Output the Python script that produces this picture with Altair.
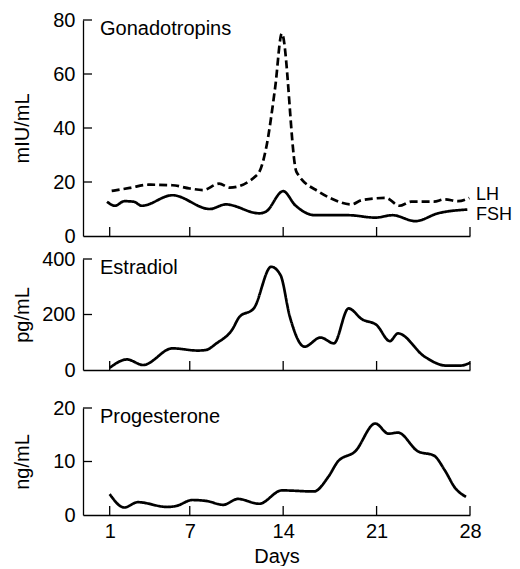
import altair as alt
import pandas as pd

FONT = "Liberation Sans"

# ---------------- data ----------------
x_ticks = [1, 7, 14, 21, 28]

lh_days = [1.15, 2.5, 3.9, 5.7, 7.0, 8.0, 9.2, 10.0, 12.1, 12.7, 13.4, 13.9, 15.0, 16.7, 17.6, 19.1, 19.9, 21.7, 22.7, 23.6, 25.3, 26.1, 27.1, 27.95]
lh_vals = [16.7, 17.8, 19.0, 18.8, 17.6, 17.0, 19.4, 17.9, 22.9, 32.0, 55.0, 75.0, 23.7, 16.3, 13.9, 11.7, 13.3, 14.1, 11.2, 12.7, 12.7, 13.6, 12.9, 14.1]

fsh_days = [0.8, 1.4, 2.1, 2.8, 3.4, 5.7, 8.5, 9.7, 12.2, 12.7, 14.0, 14.9, 16.4, 18.9, 20.9, 22.2, 23.9, 25.6, 27.8]
fsh_vals = [12.7, 11.2, 12.9, 12.7, 11.2, 15.1, 10.0, 11.7, 8.4, 9.0, 16.6, 11.4, 7.7, 7.7, 6.8, 7.7, 5.5, 8.4, 9.8]

e2_days = [1.0, 2.3, 3.5, 5.7, 7.6, 8.2, 9.0, 10.2, 10.7, 11.8, 13.1, 13.8, 14.5, 15.6, 16.8, 17.8, 18.9, 19.9, 21.0, 22.0, 22.6, 24.6, 26.2, 27.3, 28.0]
e2_vals = [8, 38, 18, 78, 70, 72, 96, 147, 190, 222, 372, 342, 192, 84, 117, 96, 222, 183, 162, 104, 132, 48, 16, 16, 26]

p4_days = [1.0, 2.1, 3.1, 5.3, 6.0, 7.2, 8.3, 9.5, 10.6, 12.2, 13.9, 16.3, 17.4, 18.1, 19.4, 20.9, 21.9, 22.6, 24.1, 25.3, 26.1, 26.9, 27.7]
p4_vals = [3.9, 1.4, 2.4, 1.5, 1.7, 2.8, 2.6, 1.9, 3.0, 2.1, 4.6, 4.4, 7.2, 10.0, 11.9, 17.1, 15.2, 15.4, 11.9, 11.1, 8.4, 5.0, 3.4]

gonad_ticks = [0, 20, 40, 60, 80]
e2_ticks = [0, 200, 400]
p4_ticks = [0, 10, 20]

series_labels = ["LH", "FSH"]
series_label_vals = [13.3, 5.9]

X_SCALE = dict(domain=[-1, 28], nice=False, zero=False)
W = 387


def panel(lines, ydomain, yticks, ytitle, label, height, bottom=False, extra=None):
    yscale = alt.Scale(domain=ydomain, nice=False, zero=True)
    if bottom:
        xaxis = alt.Axis(values=x_ticks, ticks=False, tickSize=0, labelPadding=6,
                         labelFlush=False, labelFontSize=20, title="Days",
                         titleFontSize=20, titleFontWeight="normal", titlePadding=5,
                         grid=False, domainColor="black", domainWidth=1.3,
                         labelColor="black", titleColor="black",
                         labelFont=FONT, titleFont=FONT)
    else:
        xaxis = alt.Axis(values=x_ticks, ticks=False, tickSize=0, labels=False,
                         title=None, grid=False, domainColor="black", domainWidth=1.3)
    yaxis = alt.Axis(values=yticks, ticks=False, tickSize=0, labelPadding=8,
                     labelFontSize=20, title=ytitle, titleFontSize=20,
                     titleFontWeight="normal",
                     titleX=-55, titleY=height / 2, titleAngle=270,
                     titleBaseline="alphabetic", titleAlign="center", grid=False,
                     domainColor="black", domainWidth=1.3, labelColor="black",
                     titleColor="black", labelFont=FONT, titleFont=FONT)
    layers = []
    first = True
    for df, dash in lines:
        m = alt.Chart(df).mark_line(color="black", strokeWidth=2.7,
                                    interpolate="monotone", strokeDash=dash)
        if first:
            enc = dict(x=alt.X("day:Q", scale=alt.Scale(**X_SCALE), axis=xaxis),
                       y=alt.Y("val:Q", scale=yscale, axis=yaxis))
            first = False
        else:
            enc = dict(x=alt.X("day:Q", scale=alt.Scale(**X_SCALE)),
                       y=alt.Y("val:Q", scale=yscale))
        layers.append(m.encode(**enc))
    # inward y ticks
    ytk = pd.DataFrame({"val": yticks[1:]})
    layers.append(alt.Chart(ytk).mark_rule(color="black", strokeWidth=1.3).encode(
        y=alt.Y("val:Q", scale=yscale), x=alt.value(0), x2=alt.value(9)))
    # inward x ticks
    xtk = pd.DataFrame({"day": x_ticks})
    layers.append(alt.Chart(xtk).mark_rule(color="black", strokeWidth=1.3).encode(
        x=alt.X("day:Q", scale=alt.Scale(**X_SCALE)), y=alt.value(height),
        y2=alt.value(height - 9)))
    # panel label
    lab = pd.DataFrame({"t": [label]})
    layers.append(alt.Chart(lab).mark_text(align="left", baseline="alphabetic",
                                           fontSize=20, font=FONT, color="black").encode(
        x=alt.value(17), y=alt.value(15), text="t:N"))
    if extra is not None:
        layers.append(extra(yscale))
    return alt.layer(*layers).properties(width=W, height=height)


lh_df = pd.DataFrame({"day": lh_days, "val": lh_vals})
fsh_df = pd.DataFrame({"day": fsh_days, "val": fsh_vals})
e2_df = pd.DataFrame({"day": e2_days, "val": e2_vals})
p4_df = pd.DataFrame({"day": p4_days, "val": p4_vals})


def series_text(yscale):
    df = pd.DataFrame({"day": [28, 28], "val": series_label_vals, "name": series_labels})
    return alt.Chart(df).mark_text(align="left", baseline="alphabetic", dx=6,
                                   fontSize=18, font=FONT, color="black").encode(
        x=alt.X("day:Q", scale=alt.Scale(**X_SCALE)),
        y=alt.Y("val:Q", scale=yscale), text="name:N")


top = panel([(lh_df, [8, 4]), (fsh_df, [1, 0])], [0, 80], gonad_ticks, "mIU/mL",
            "Gonadotropins", 216, extra=series_text)
mid = panel([(e2_df, [1, 0])], [0, 400], e2_ticks, "pg/mL", "Estradiol", 111)
bot = panel([(p4_df, [1, 0])], [0, 20], p4_ticks, "ng/mL", "Progesterone", 107, bottom=True)

chart = alt.vconcat(alt.vconcat(top, mid, spacing=3), bot, spacing=18).properties(
    padding={"left": 4, "top": 2, "right": 0, "bottom": 0},
    background="white"
).configure_view(stroke=None).configure_axis(
    domainColor="black", domainWidth=1.3, labelColor="black", titleColor="black",
    labelFont=FONT, titleFont=FONT, titleFontWeight="normal"
)

chart.save("out.html", embed_options={"renderer": "svg", "actions": False})
